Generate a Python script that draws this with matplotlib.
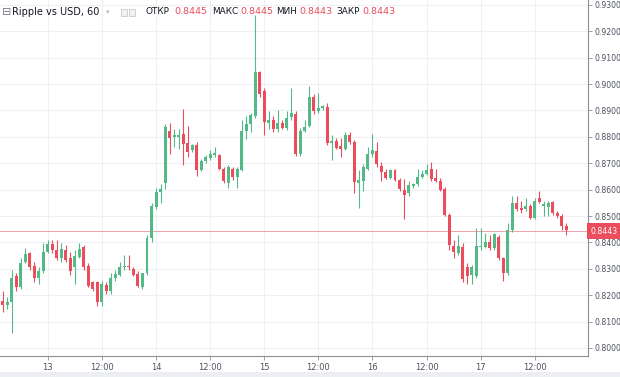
import numpy as np
import pandas as pd
import matplotlib
matplotlib.use('Agg')
import matplotlib.pyplot as plt
import matplotlib.transforms as mtransforms
from matplotlib.patches import Rectangle

plt.rcParams['font.family'] = ['DejaVu Sans']

# Ripple vs USD, 1h candles (12th 14:00 .. 17th 20:00)
start = '2018-06-12 14:00'
opens = [0.8178, 0.8163, 0.8174, 0.8271, 0.8230, 0.8327, 0.8360, 0.8312, 0.8267, 0.8290,
         0.8364, 0.8394, 0.8371, 0.8342, 0.8371, 0.8342, 0.8305, 0.8346, 0.8383, 0.8312,
         0.8249, 0.8249, 0.8174, 0.8238, 0.8215, 0.8264, 0.8278, 0.8305, 0.8312, 0.8301,
         0.8282, 0.8230, 0.8286, 0.8416, 0.8535, 0.8591, 0.8624, 0.8821, 0.8799, 0.8799,
         0.8810, 0.8776, 0.8750, 0.8769, 0.8676, 0.8710, 0.8721, 0.8732, 0.8732, 0.8680,
         0.8624, 0.8680, 0.8646, 0.8676, 0.8821, 0.8847, 0.8880, 0.9044, 0.8973, 0.8851,
         0.8862, 0.8828, 0.8851, 0.8832, 0.8877, 0.8887, 0.8735, 0.8821, 0.8840, 0.8951,
         0.8899, 0.8910, 0.8914, 0.8776, 0.8784, 0.8765, 0.8754, 0.8806, 0.8780, 0.8624,
         0.8631, 0.8680, 0.8735, 0.8747, 0.8691, 0.8665, 0.8643, 0.8673, 0.8635, 0.8598,
         0.8587, 0.8613, 0.8620, 0.8646, 0.8661, 0.8680, 0.8643, 0.8631, 0.8602, 0.8505,
         0.8386, 0.8360, 0.8383, 0.8308, 0.8275, 0.8271, 0.8383, 0.8383, 0.8401, 0.8379,
         0.8420, 0.8342, 0.8286, 0.8446, 0.8550, 0.8531, 0.8528, 0.8539, 0.8494, 0.8569,
         0.8539, 0.8535, 0.8554, 0.8513, 0.8501, 0.8461, 0.8445]
highs = [0.8215, 0.8193, 0.8297, 0.8286, 0.8342, 0.8379, 0.8364, 0.8327, 0.8308, 0.8397,
         0.8408, 0.8408, 0.8408, 0.8397, 0.8390, 0.8364, 0.8371, 0.8397, 0.8390, 0.8323,
         0.8253, 0.8253, 0.8253, 0.8249, 0.8286, 0.8297, 0.8327, 0.8353, 0.8353, 0.8308,
         0.8290, 0.8286, 0.8427, 0.8550, 0.8605, 0.8620, 0.8847, 0.8854, 0.8828, 0.8828,
         0.8906, 0.8843, 0.8773, 0.8780, 0.8717, 0.8732, 0.8750, 0.8761, 0.8735, 0.8687,
         0.8695, 0.8687, 0.8687, 0.8865, 0.8880, 0.8891, 0.9263, 0.9048, 0.8984, 0.8899,
         0.8880, 0.8903, 0.8862, 0.8899, 0.8984, 0.8899, 0.8832, 0.8865, 0.8992, 0.8962,
         0.8966, 0.8921, 0.8928, 0.8806, 0.8795, 0.8795, 0.8817, 0.8817, 0.8788, 0.8676,
         0.8698, 0.8761, 0.8810, 0.8780, 0.8706, 0.8680, 0.8680, 0.8680, 0.8643, 0.8639,
         0.8631, 0.8624, 0.8680, 0.8676, 0.8698, 0.8706, 0.8680, 0.8643, 0.8609, 0.8513,
         0.8408, 0.8427, 0.8397, 0.8323, 0.8316, 0.8453, 0.8453, 0.8434, 0.8427, 0.8434,
         0.8427, 0.8346, 0.8475, 0.8576, 0.8576, 0.8557, 0.8569, 0.8546, 0.8569, 0.8595,
         0.8557, 0.8557, 0.8557, 0.8520, 0.8509, 0.8475, 0.8445]
lows = [0.8137, 0.8148, 0.8056, 0.8215, 0.8223, 0.8323, 0.8297, 0.8249, 0.8241, 0.8286,
        0.8360, 0.8360, 0.8334, 0.8327, 0.8327, 0.8278, 0.8241, 0.8342, 0.8297, 0.8230,
        0.8215, 0.8160, 0.8160, 0.8204, 0.8204, 0.8253, 0.8271, 0.8297, 0.8297, 0.8271,
        0.8230, 0.8223, 0.8278, 0.8401, 0.8527, 0.8550, 0.8602, 0.8735, 0.8761, 0.8754,
        0.8695, 0.8724, 0.8743, 0.8650, 0.8669, 0.8702, 0.8713, 0.8724, 0.8676, 0.8624,
        0.8605, 0.8635, 0.8605, 0.8669, 0.8791, 0.8817, 0.8873, 0.8951, 0.8806, 0.8828,
        0.8817, 0.8817, 0.8828, 0.8825, 0.8865, 0.8728, 0.8728, 0.8817, 0.8836, 0.8887,
        0.8891, 0.8903, 0.8769, 0.8713, 0.8754, 0.8724, 0.8750, 0.8773, 0.8587, 0.8531,
        0.8594, 0.8676, 0.8724, 0.8687, 0.8631, 0.8639, 0.8639, 0.8631, 0.8594, 0.8490,
        0.8576, 0.8605, 0.8613, 0.8643, 0.8657, 0.8631, 0.8628, 0.8594, 0.8501, 0.8371,
        0.8342, 0.8353, 0.8249, 0.8241, 0.8241, 0.8267, 0.8371, 0.8379, 0.8371, 0.8371,
        0.8334, 0.8253, 0.8278, 0.8439, 0.8520, 0.8513, 0.8520, 0.8490, 0.8490, 0.8550,
        0.8501, 0.8501, 0.8505, 0.8494, 0.8446, 0.8427, 0.8443]
closes = [0.8163, 0.8174, 0.8267, 0.8230, 0.8323, 0.8357, 0.8308, 0.8267, 0.8290, 0.8364,
          0.8394, 0.8371, 0.8342, 0.8375, 0.8334, 0.8290, 0.8349, 0.8375, 0.8308, 0.8234,
          0.8223, 0.8174, 0.8241, 0.8215, 0.8267, 0.8282, 0.8305, 0.8312, 0.8305, 0.8278,
          0.8234, 0.8286, 0.8416, 0.8539, 0.8591, 0.8602, 0.8839, 0.8795, 0.8806, 0.8806,
          0.8773, 0.8743, 0.8769, 0.8676, 0.8710, 0.8724, 0.8735, 0.8739, 0.8680, 0.8631,
          0.8684, 0.8646, 0.8680, 0.8821, 0.8847, 0.8884, 0.9044, 0.8962, 0.8858, 0.8862,
          0.8828, 0.8854, 0.8832, 0.8873, 0.8891, 0.8735, 0.8821, 0.8836, 0.8951, 0.8899,
          0.8910, 0.8917, 0.8776, 0.8784, 0.8758, 0.8754, 0.8806, 0.8780, 0.8628, 0.8635,
          0.8684, 0.8735, 0.8750, 0.8698, 0.8665, 0.8643, 0.8673, 0.8635, 0.8602, 0.8579,
          0.8617, 0.8620, 0.8646, 0.8661, 0.8676, 0.8639, 0.8631, 0.8598, 0.8505, 0.8390,
          0.8364, 0.8386, 0.8260, 0.8271, 0.8308, 0.8386, 0.8386, 0.8401, 0.8379, 0.8431,
          0.8342, 0.8286, 0.8446, 0.8550, 0.8528, 0.8524, 0.8539, 0.8494, 0.8557, 0.8554,
          0.8546, 0.8550, 0.8513, 0.8501, 0.8464, 0.8446, 0.8443]

UP = '#53b987'
DOWN = '#eb4d5c'
GRID = '#eef0f4'
TXT = '#4c525e'

o = np.array(opens); h = np.array(highs); l = np.array(lows); c = np.array(closes)
times = pd.date_range(start, periods=len(o), freq='h')
x = np.arange(len(o))
cols = [UP if cc >= oo else DOWN for oo, cc in zip(o, c)]

fig = plt.figure(figsize=(6.2, 3.77), dpi=100)
ax = fig.add_axes([0, 21 / 377, 588 / 620, 356 / 377])

ax.vlines(x, l, h, colors=cols, linewidth=0.8, zorder=2)
body = np.maximum(np.abs(c - o), 0.00008)
ax.bar(x, body, bottom=np.minimum(o, c), width=0.66, color=cols, linewidth=0, zorder=3)

last = c[-1]
ax.axhline(last, color='#f2a0a8', linewidth=0.7, zorder=1)

ax.set_xlim(-0.6, 129.8)
ax.set_ylim(0.79696, 0.93186)

# x ticks: midnight -> day number, noon -> 12:00
tick_idx = [i for i, t in enumerate(times) if t.hour in (0, 12)]
tick_lab = [str(times[i].day) if times[i].hour == 0 else '12:00' for i in tick_idx]
ax.set_xticks(tick_idx)
ax.set_xticklabels(tick_lab)
yt = np.arange(0.80, 0.9301, 0.01)
ax.set_yticks(yt)
ax.set_yticklabels([f'{v:.4f}' for v in yt])
ax.yaxis.tick_right()
ax.tick_params(axis='x', labelsize=6.0, colors='#8c9099', labelcolor=TXT,
               length=3, width=0.6, pad=2)
ax.tick_params(axis='y', labelsize=5.6, colors='#8c9099', labelcolor=TXT,
               length=3, width=0.6, pad=1.5)
ax.grid(True, color=GRID, linewidth=0.8, zorder=0)
ax.set_axisbelow(True)
for s in ('left', 'top'):
    ax.spines[s].set_visible(False)
for s in ('right', 'bottom'):
    ax.spines[s].set_color('#8c9099')
    ax.spines[s].set_linewidth(0.8)

# last price label on the right scale
tr = mtransforms.blended_transform_factory(ax.transAxes, ax.transData)
ax.text(1.004, last, f'{last:.4f}', transform=tr, ha='left', va='center', fontsize=5.6,
        color='white', clip_on=False, zorder=5,
        bbox=dict(boxstyle='square,pad=0.45', fc=DOWN, ec='none'))

# header legend
def px(xp, yp):
    return xp / 620, 1 - yp / 377

fig.text(*px(2, 12), '⊟', fontsize=8, color='#787b86', va='center')
fig.text(*px(12, 12), 'Ripple vs USD, 60', fontsize=7.0, color='#131722', va='center')
fig.text(*px(106, 12), '▾', fontsize=5, color='#b2b5be', va='center')
for bx in (121, 129):
    fig.patches.append(Rectangle(px(bx, 16), 6 / 620, 7 / 377, transform=fig.transFigure,
                                 fc='#f0f1f3', ec='#c8cbd2', lw=0.6))
items = [('ОТКР', o[-1], 145, 174), ('МАКС', h[-1], 212, 240),
         ('МИН', l[-1], 276, 299), ('ЗАКР', c[-1], 336, 362)]
for name, val, xn, xv in items:
    fig.text(*px(xn, 12), name, fontsize=6.4, color='#131722', va='center')
    fig.text(*px(xv, 12), f'{val:.4f}', fontsize=6.8, color=DOWN, va='center')

fig.patches.append(Rectangle((0, 0), 1, 5 / 377, transform=fig.transFigure,
                             fc='#eceef1', ec='none'))

plt.savefig('out.png', dpi=100)
